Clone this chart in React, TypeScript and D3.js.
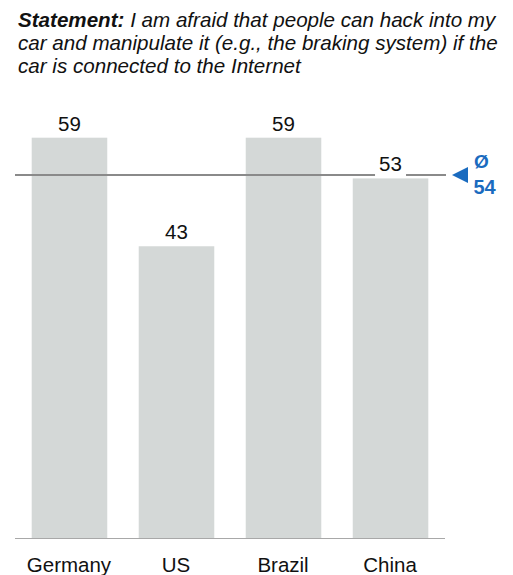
import React from "react";
import * as d3 from "d3";

const categories = ["Germany", "US", "Brazil", "China"];
const values = [59, 43, 59, 53];
const titleLead = "Statement:";
const titleLines = [
  " I am afraid that people can hack into my",
  "car and manipulate it (e.g., the braking system) if the",
  "car is connected to the Internet",
];

const W = 513;
const H = 575;
const baseY = 538;
const font = "Liberation Sans, Arial, sans-serif";
const blue = "#1a6bbf";

export default function App() {
  const x = d3
    .scaleBand<string>()
    .domain(categories)
    .range([15, 445])
    .paddingInner(0.294)
    .paddingOuter(0.156);
  const y = d3.scaleLinear().domain([0, 59]).range([baseY, 137.7]);
  const average = d3.mean(values) ?? 0;
  const avgY = y(average);

  return (
    <svg width={W} height={H} style={{ position: "absolute", left: 0, top: 0 }} fontFamily={font}>
      <g fontSize={20.6} fontStyle="italic" fill="#111">
        <text x={18} y={27}>
          <tspan fontWeight="bold">{titleLead}</tspan>
          <tspan>{titleLines[0]}</tspan>
        </text>
        <text x={18} y={50}>{titleLines[1]}</text>
        <text x={18} y={73}>{titleLines[2]}</text>
      </g>

      {categories.map((c, i) => (
        <rect
          key={c}
          x={x(c)}
          y={y(values[i])}
          width={x.bandwidth()}
          height={baseY - y(values[i])}
          fill="#d4d8d7"
        />
      ))}

      <line x1={15} x2={446} y1={avgY} y2={avgY} stroke="#8a8a8a" strokeWidth={2} />
      <line x1={15} x2={445} y1={baseY + 0.5} y2={baseY + 0.5} stroke="#a8a8a8" strokeWidth={1} />

      {categories.map((c, i) => {
        const cx = (x(c) ?? 0) + x.bandwidth() / 2;
        const ly = y(values[i]) - 7;
        return (
          <g key={c}>
            {Math.abs(ly - avgY) < 20 && (
              <rect x={cx - 15.5} y={avgY - 3} width={31} height={6} fill="#fff" />
            )}
            <text x={cx} y={ly} fontSize={20.5} textAnchor="middle" fill="#111">
              {values[i]}
            </text>
            <text x={cx - 0.5} y={572} fontSize={20.5} textAnchor="middle" fill="#111">
              {c}
            </text>
          </g>
        );
      })}

      <path d={`M452,${avgY} L468,${avgY - 8} L468,${avgY + 8} Z`} fill={blue} />
      <text x={474} y={168} fontSize={19} fontWeight="bold" fill={blue}>
        Ø
      </text>
      <text x={473.5} y={194} fontSize={20} fontWeight="bold" fill={blue}>
        {Math.round(average)}
      </text>
    </svg>
  );
}
